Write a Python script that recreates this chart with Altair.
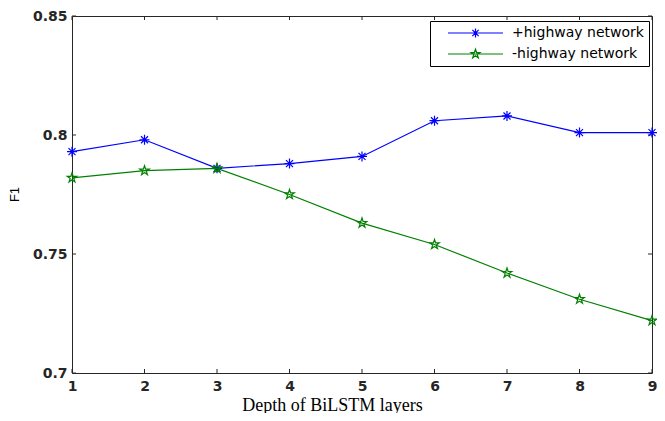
import altair as alt
import pandas as pd

# ---- data ----
DEPTH = [1, 2, 3, 4, 5, 6, 7, 8, 9]
SERIES = ["+highway network", "-highway network"]
F1_WITH = [0.793, 0.798, 0.786, 0.788, 0.791, 0.806, 0.808, 0.801, 0.801]
F1_WITHOUT = [0.782, 0.785, 0.786, 0.775, 0.763, 0.754, 0.742, 0.731, 0.722]
X_TICKS = [1, 2, 3, 4, 5, 6, 7, 8, 9]
Y_TICKS = [0.7, 0.75, 0.8, 0.85]
COLORS = ["#0000FF", "#008000"]

df = pd.DataFrame({
    "depth": DEPTH + DEPTH,
    "f1": F1_WITH + F1_WITHOUT,
    "series": [SERIES[0]] * len(DEPTH) + [SERIES[1]] * len(DEPTH),
})
xt = pd.DataFrame({"depth": X_TICKS})
yt = pd.DataFrame({"f1": Y_TICKS})

# ---- marker shapes (unit coordinates) ----
def fmt(v):
    return ("%.3f" % v).rstrip("0").rstrip(".")

ASTER_SEGS = [((0, -1), (0, 1)), ((-1, 0), (1, 0)),
              ((-0.7, -0.7), (0.7, 0.7)), ((-0.7, 0.7), (0.7, -0.7))]
STAR_PTS = [(0, -1), (0.2245, -0.309), (0.951, -0.309), (0.363, 0.118),
            (0.588, 0.809), (0, 0.382), (-0.588, 0.809), (-0.363, 0.118),
            (-0.951, -0.309), (-0.2245, -0.309)]

def aster_path(s=1.0, cx=0.0):
    return "".join("M%s,%sL%s,%s" % (fmt(a[0] * s + cx), fmt(a[1] * s),
                                      fmt(b[0] * s + cx), fmt(b[1] * s))
                   for a, b in ASTER_SEGS)

def star_path(s=1.0, cx=0.0):
    pts = ["%s,%s" % (fmt(x * s + cx), fmt(y * s)) for x, y in STAR_PTS]
    return "M" + "L".join(pts) + "Z"

SHAPES = [aster_path(), star_path()]
# legend glyph: short line with the marker in its middle (size 100 -> 5 px per unit)
LEG_LINE = "M1.2,0L12.2,0"
LEG_SHAPES = [LEG_LINE + aster_path(0.9, 6.7), LEG_LINE + star_path(0.95, 6.7)]

L_PAD, T_PAD, R_PAD, B_PAD = 64, 8, 5, 40
W, H = 580, 357
INK = "#262626"

x_scale = alt.Scale(domain=[1, 9], nice=False, zero=False)
y_scale = alt.Scale(domain=[0.7, 0.85], nice=False, zero=False)
color_scale = alt.Scale(domain=SERIES, range=COLORS)

x_axis = alt.Axis(values=X_TICKS, format="d", title="Depth of BiLSTM layers",
                  ticks=False, domain=False, grid=False, labelFlush=False,
                  labelPadding=6, labelFont="DejaVu Sans", labelFontWeight="bold",
                  labelFontSize=14, labelColor=INK,
                  titleFont="Liberation Serif", titleFontSize=18, titleFontWeight="normal",
                  titleColor="black", titleX=260, titleY=32, titleBaseline="middle",
                  titleAlign="center")
y_axis = alt.Axis(values=Y_TICKS, format=".2~f", title="F1",
                  ticks=False, domain=False, grid=False, labelFlush=False,
                  labelPadding=5, labelFont="DejaVu Sans", labelFontWeight="bold",
                  labelFontSize=14, labelColor=INK,
                  titleFont="Liberation Sans", titleFontSize=13, titleFontWeight="normal",
                  titleColor="black", titleX=-58, titleY=178, titleAngle=270,
                  titleBaseline="middle", titleAlign="center")

X = alt.X("depth:Q", scale=x_scale, axis=x_axis)
Y = alt.Y("f1:Q", scale=y_scale, axis=y_axis)

tick_top = alt.Chart(xt).mark_rule(color=INK, strokeWidth=1).encode(
    x=X, y=alt.value(0), y2=alt.value(4))
tick_bot = alt.Chart(xt).mark_rule(color=INK, strokeWidth=1).encode(
    x=X, y=alt.value(H), y2=alt.value(H - 4))
tick_left = alt.Chart(yt).mark_rule(color=INK, strokeWidth=1).encode(
    y=Y, x=alt.value(0), x2=alt.value(4))
tick_right = alt.Chart(yt).mark_rule(color=INK, strokeWidth=1).encode(
    y=Y, x=alt.value(W), x2=alt.value(W - 4))

series_layers = []
for i, s in enumerate(SERIES):
    base = alt.Chart(df).transform_filter(alt.datum.series == s)
    series_layers.append(base.mark_line(color=COLORS[i], strokeWidth=1.2).encode(x=X, y=Y))
    series_layers.append(
        base.mark_point(shape=SHAPES[i], size=100, filled=False, strokeWidth=1.2,
                        color=COLORS[i], opacity=1).encode(x=X, y=Y))

leg_kwargs = dict(title=None, orient="none", legendX=358, legendY=5,
                  fillColor="white", strokeColor="black", padding=5, rowPadding=6,
                  labelFont="DejaVu Sans", labelFontSize=14, labelColor="black",
                  labelOffset=63, symbolSize=100, symbolStrokeWidth=1.2,
                  symbolOpacity=1)

legend_layer = alt.Chart(df).mark_point(opacity=0, filled=False, strokeWidth=1.2).encode(
    x=X, y=Y,
    color=alt.Color("series:N", scale=color_scale, legend=alt.Legend(**leg_kwargs)),
    shape=alt.Shape("series:N", scale=alt.Scale(domain=SERIES, range=LEG_SHAPES),
                    legend=alt.Legend(**leg_kwargs)),
)

chart = alt.layer(tick_top, tick_bot, tick_left, tick_right, *series_layers, legend_layer).properties(
    width=W, height=H,
    autosize=alt.AutoSizeParams(type="none"),
    padding={"left": L_PAD, "top": T_PAD, "right": R_PAD, "bottom": B_PAD},
    background="white",
).configure_view(stroke=INK, strokeWidth=1)

chart.save("out.html", embed_options={"renderer": "svg", "actions": False})
